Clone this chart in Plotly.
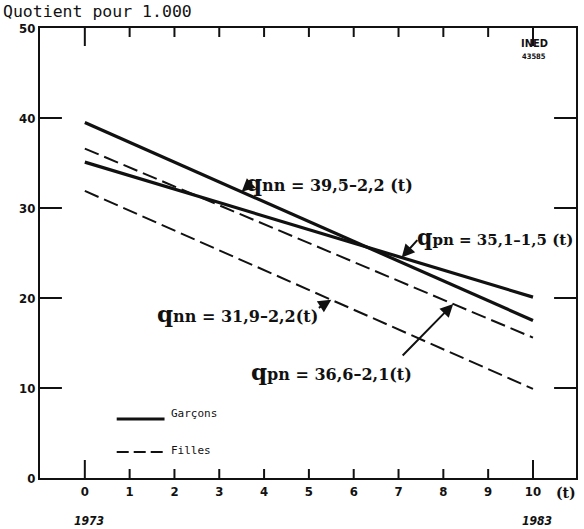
import plotly.graph_objects as go

# Regression lines of the quotients (per 1,000) against t = years since 1973
t_years = [0, 10]
intercepts_garcons = {"qnn": 39.5, "qpn": 35.1}
slopes_garcons = {"qnn": -2.2, "qpn": -1.5}
intercepts_filles = {"qnn": 31.9, "qpn": 36.6}
slopes_filles = {"qnn": -2.2, "qpn": -2.1}

x_ticks = list(range(0, 11))
x_long_ticks = [0, 10]
y_ticks = [0, 10, 20, 30, 40, 50]
year_labels = {0: "1973", 10: "1983"}

W, H = 584, 529
ML, MR, MT, MB = 40, 6, 28, 51
PW, PH = W - ML - MR, H - MT - MB
X0, X1 = -1.0, 10.96
Y0, Y1 = 0, 50


def line(a, b):
    return [a + b * t for t in t_years]


def px(x):
    return (x - ML) / PW


def py(y):
    return (H - MB - y) / PH


INK = "#111111"
fig = go.Figure()

for key in ["qnn", "qpn"]:
    fig.add_trace(go.Scatter(
        x=t_years, y=line(intercepts_garcons[key], slopes_garcons[key]),
        mode="lines", line=dict(color=INK, width=3.2), showlegend=False,
        hoverinfo="skip"))
for key in ["qnn", "qpn"]:
    fig.add_trace(go.Scatter(
        x=t_years, y=line(intercepts_filles[key], slopes_filles[key]),
        mode="lines", line=dict(color=INK, width=2, dash="15px,6px"),
        showlegend=False, hoverinfo="skip"))

# inward tick marks on all four edges, longer at the first and last year
dy_short = 9 / PH * (Y1 - Y0)
dy_long = 18 / PH * (Y1 - Y0)
dx_y = 22 / PW * (X1 - X0)
tx, ty = [], []
for t in x_ticks:
    d = dy_long if t in x_long_ticks else dy_short
    tx += [t, t, None, t, t, None]
    ty += [Y0, Y0 + d, None, Y1, Y1 - d, None]
for v in y_ticks[1:-1]:
    tx += [X0, X0 + dx_y, None, X1, X1 - dx_y, None]
    ty += [v, v, None, v, v, None]
fig.add_trace(go.Scatter(x=tx, y=ty, mode="lines", connectgaps=False,
                         line=dict(color=INK, width=2), showlegend=False,
                         hoverinfo="skip", cliponaxis=False))

tick_font = dict(family="DejaVu Sans Condensed, DejaVu Sans", size=13,
                 color=INK, weight="bold")

fig.update_layout(
    width=W, height=H,
    margin=dict(l=ML, r=MR, t=MT, b=MB),
    paper_bgcolor="white", plot_bgcolor="white",
    xaxis=dict(range=[X0, X1], tickmode="array", tickvals=x_ticks,
               ticks="", mirror=True, showline=True, linewidth=2,
               linecolor=INK, showgrid=False, zeroline=False,
               tickfont=tick_font),
    yaxis=dict(range=[Y0, Y1], tickmode="array", tickvals=y_ticks,
               ticks="", mirror=True, showline=True, linewidth=2,
               linecolor=INK, showgrid=False, zeroline=False,
               tickfont=tick_font),
    showlegend=False,
)


def formula(sub, a, b, gap=" ", size=16):
    return ('<span style="font-size:%dpx">q</span>' % (size + 7) +
            f'<span style="font-size:{size}px">{sub}</span>'
            f' = {a}–{b}{gap}(t)')


# formula labels (left edge, vertical centre, font size) and arrows
labels = [
    (formula("nn", "39,5", "2,2"), 245, 182, 16),
    (formula("pn", "35,1", "1,5", size=15), 416, 237, 15),
    (formula("nn", "31,9", "2,2", gap=""), 155, 313, 16),
    (formula("pn", "36,6", "2,1", gap=""), 250, 371, 16),
]
for text, lx, ly, size in labels:
    fig.add_annotation(text=text, xref="paper", yref="paper", x=px(lx),
                       y=py(ly), xanchor="left", yanchor="middle",
                       showarrow=False,
                       font=dict(family="DejaVu Serif", size=size,
                                 color=INK, weight="bold"))

arrows = [
    (3.5, intercepts_garcons["qnn"], slopes_garcons["qnn"], 12, -11),
    (7.07, intercepts_garcons["qpn"], slopes_garcons["qpn"], 17, -19),
    (5.5, intercepts_filles["qnn"], slopes_filles["qnn"], -14, 9),
    (8.22, intercepts_filles["qpn"], slopes_filles["qpn"], -52, 53),
]
for t, a, b, ax, ay in arrows:
    fig.add_annotation(x=t, y=a + b * t, xref="x", yref="y", text="",
                       showarrow=True, arrowhead=2, arrowsize=1.3,
                       arrowwidth=2, arrowcolor=INK, ax=ax, ay=ay)

# axis captions and year markers
mono = "DejaVu Sans Mono, Liberation Mono"
fig.add_annotation(text="Quotient pour 1.000", xref="paper", yref="paper",
                   x=px(1), y=py(12), xanchor="left", yanchor="middle",
                   showarrow=False,
                   font=dict(family=mono, size=16.5, color=INK))
fig.add_annotation(text="(t)", xref="paper", yref="paper", x=px(568),
                   y=py(493), xanchor="center", yanchor="middle",
                   showarrow=False,
                   font=dict(family="DejaVu Serif", size=14, color=INK,
                             weight="bold"))
for t, year in year_labels.items():
    fig.add_annotation(text=f"<i>{year}</i>", xref="x", yref="paper", x=t,
                       y=py(521), xanchor="center", yanchor="middle",
                       xshift=4, showarrow=False,
                       font=dict(family="DejaVu Sans Condensed, DejaVu Sans",
                                 size=12, color=INK, weight="bold"))

# INED stamp
fig.add_annotation(text="INED", xref="paper", yref="paper", x=px(536),
                   y=py(43), xanchor="center", yanchor="middle",
                   showarrow=False,
                   font=dict(family="DejaVu Sans Condensed, DejaVu Sans",
                             size=11, color=INK, weight="bold"))
fig.add_annotation(text="43585", xref="paper", yref="paper", x=px(536),
                   y=py(57), xanchor="center", yanchor="middle",
                   showarrow=False,
                   font=dict(family="DejaVu Sans Condensed, DejaVu Sans",
                             size=7.5, color=INK, weight="bold"))

# key
key_items = [("Garçons", 419, 413, dict(color=INK, width=3.2)),
             ("Filles", 452, 450, dict(color=INK, width=2,
                                       dash="12px,5px"))]
for name, ly, ty, style in key_items:
    fig.add_shape(type="line", xref="paper", yref="paper", x0=px(117),
                  x1=px(165), y0=py(ly), y1=py(ly), line=style)
    fig.add_annotation(text=name, xref="paper", yref="paper", x=px(169),
                       y=py(ty), xanchor="left", yanchor="middle",
                       showarrow=False, font=dict(family=mono, size=11,
                                                  color=INK))

fig.write_html("out.html")
